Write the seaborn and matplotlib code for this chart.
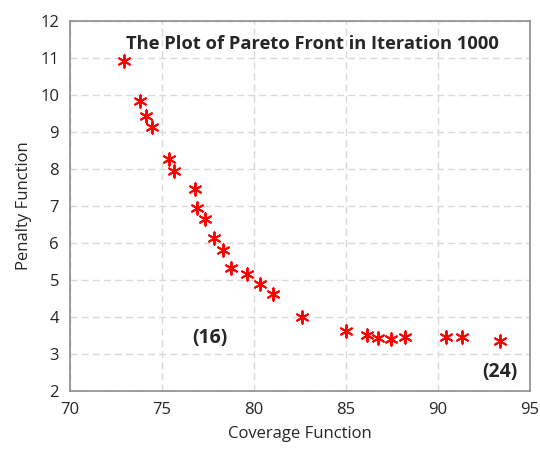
import seaborn as sns
import pandas as pd
import matplotlib.pyplot as plt

# pareto front points
coverage = [72.95, 73.8, 74.13, 74.46, 75.36, 75.67, 76.79, 76.9, 77.34, 77.83,
            78.3, 78.75, 79.64, 80.34, 81.03, 82.63, 85.03, 86.16, 86.76, 87.43,
            88.2, 90.47, 91.34, 93.4]
penalty = [10.92, 9.82, 9.42, 9.12, 8.27, 7.93, 7.46, 6.93, 6.64, 6.12,
           5.8, 5.32, 5.15, 4.88, 4.6, 3.99, 3.6, 3.51, 3.41, 3.39,
           3.45, 3.45, 3.44, 3.35]

sns.set_style("white")
plt.rcParams['font.family'] = ['Open Sans', 'DejaVu Sans']

df = pd.DataFrame({'Coverage Function': coverage, 'Penalty Function': penalty})

fig = plt.figure(figsize=(5.4, 4.5), dpi=100)
ax = fig.add_axes([0.13, 0.132, 0.851, 0.822])
sns.scatterplot(data=df, x='Coverage Function', y='Penalty Function', ax=ax,
                marker=(6, 2, 0), s=80, color='red', linewidth=1.4,
                edgecolor='red', zorder=3)

ax.set_xlim(70, 95)
ax.set_ylim(2, 12)
ax.set_xticks(range(70, 96, 5))
ax.set_yticks(range(2, 13))
ax.grid(True, linestyle=(0, (5, 3)), color='#d9d9d9', linewidth=1)
ax.tick_params(length=0, labelsize=12, pad=8)
for s in ax.spines.values():
    s.set_color('#8c8c8c')
    s.set_linewidth(1.2)
ax.set_xlabel('Coverage Function', fontsize=12, labelpad=6)
ax.set_ylabel('Penalty Function', fontsize=12, labelpad=6)

ax.text(83.2, 11.37, 'The Plot of Pareto Front in Iteration 1000', ha='center',
        va='center', fontsize=13.2, fontweight='bold')
ax.text(77.6, 3.42, '(16)', ha='center', va='center', fontsize=14, fontweight='bold')
ax.text(93.4, 2.5, '(24)', ha='center', va='center', fontsize=14, fontweight='bold')

plt.savefig('out.png', dpi=100)
